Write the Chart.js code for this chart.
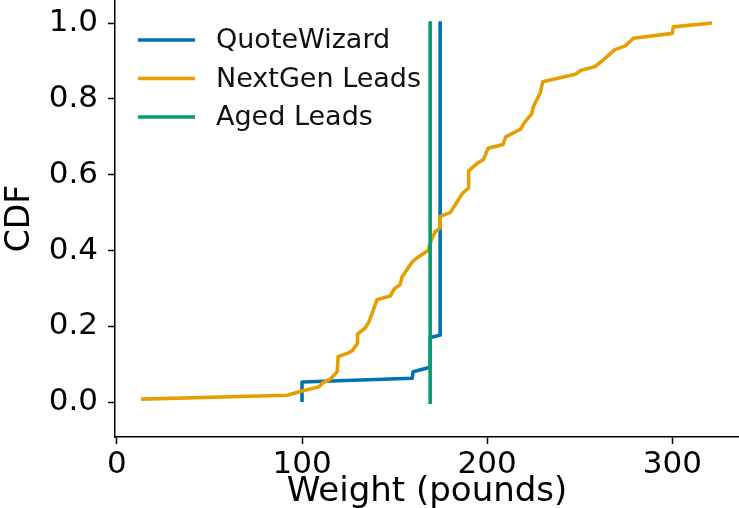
<!DOCTYPE html>
<html>
<head>
<meta charset="utf-8">
<script src="https://cdn.jsdelivr.net/npm/chart.js@4.4.0/dist/chart.umd.min.js"></script>
<style>
  body { margin: 0; background: #fff; }
</style>
</head>
<body>
<canvas id="cdfChart" width="739" height="508"></canvas>
<script>
// values: weight (pounds) and CDF
const quoteWizardX = [100, 100, 159.5, 160, 169.2, 169.2, 174.6, 174.6];
const quoteWizardY = [0.005, 0.053, 0.063, 0.08, 0.092, 0.17, 0.177, 1.0];

const nextGenX = [14, 92, 100.5, 109, 111, 115, 119, 119.5, 125, 127, 130, 130, 134, 136, 140.5,
  147.6, 150, 153, 154, 159.5, 162, 168, 170, 172, 174.6, 174.6, 180, 182.7, 186.5, 190, 190,
  194.6, 198, 200.5, 208.6, 210, 218, 220.5, 224, 225, 228.6, 230, 247.6, 251, 258, 262, 269,
  274.6, 279, 300, 300.5, 320.5];
const nextGenY = [0.008, 0.018, 0.03, 0.04, 0.05, 0.06, 0.08, 0.12, 0.13, 0.135, 0.155, 0.18, 0.195, 0.21, 0.27,
  0.28, 0.30, 0.31, 0.33, 0.37, 0.38, 0.40, 0.43, 0.45, 0.46, 0.49, 0.50, 0.52, 0.55, 0.565, 0.61,
  0.63, 0.64, 0.67, 0.68, 0.70, 0.72, 0.74, 0.76, 0.78, 0.815, 0.845, 0.865, 0.876, 0.885, 0.90, 0.93,
  0.94, 0.96, 0.973, 0.99, 1.0];

const agedX = [169.2, 169.2];
const agedY = [0, 1.0];

const seriesNames = ['QuoteWizard', 'NextGen Leads', 'Aged Leads'];
const xTicks = [0, 100, 200, 300];

const toPoints = (xs, ys) => xs.map((x, i) => ({ x: x, y: ys[i] }));

const fontFam = '"DejaVu Sans", sans-serif';

// legend drawn inside the plot, top-left, like matplotlib
const insideLegend = {
  id: 'insideLegend',
  afterDraw(chart) {
    const ctx = chart.ctx;
    ctx.save();
    ctx.font = '27px ' + fontFam;
    ctx.textBaseline = 'middle';
    chart.data.datasets.forEach((ds, i) => {
      const y = 40 + i * 38.5;
      ctx.strokeStyle = ds.borderColor;
      ctx.lineWidth = 3.6;
      ctx.beginPath();
      ctx.moveTo(138, y);
      ctx.lineTo(195, y);
      ctx.stroke();
      ctx.fillStyle = '#111';
      ctx.fillText(ds.label, 216, y + 1);
    });
    ctx.restore();
  }
};

const lineStyle = {
  pointRadius: 0,
  borderWidth: 3.6,
  tension: 0,
  fill: false,
  borderJoinStyle: 'round',
  borderCapStyle: 'square'
};

var ctx = document.getElementById('cdfChart').getContext('2d');
var chart = new Chart(ctx, {
  type: 'line',
  data: {
    datasets: [{
      label: seriesNames[0],
      data: toPoints(quoteWizardX, quoteWizardY),
      borderColor: '#0072b2',
      order: 3,
      ...lineStyle
    }, {
      label: seriesNames[1],
      data: toPoints(nextGenX, nextGenY),
      borderColor: '#e69f00',
      order: 2,
      ...lineStyle
    }, {
      label: seriesNames[2],
      data: toPoints(agedX, agedY),
      borderColor: '#009e73',
      order: 1,
      ...lineStyle
    }]
  },
  plugins: [insideLegend],
  options: {
    responsive: false,
    devicePixelRatio: 1,
    animation: false,
    layout: { padding: 0 },
    plugins: {
      legend: { display: false },
      tooltip: { enabled: false }
    },
    scales: {
      x: {
        type: 'linear',
        min: -1,
        max: 336,
        afterFit: (s) => { s.height = 71; s.paddingLeft = 0; s.paddingRight = 0; },
        afterBuildTicks: (s) => { s.ticks = xTicks.map(v => ({ value: v })); },
        ticks: {
          color: '#000',
          padding: 4,
          font: { size: 31, family: fontFam, lineHeight: 1.1 },
          callback: (v) => String(v)
        },
        grid: { drawOnChartArea: false, drawTicks: true, tickLength: 7, tickWidth: 1.5, color: '#000' },
        border: { color: '#000', width: 1.5 },
        title: {
          display: true,
          text: 'Weight (pounds)',
          color: '#000',
          font: { size: 34, family: fontFam, lineHeight: 1.0 },
          padding: { top: 0, bottom: -1 }
        }
      },
      y: {
        min: -0.092,
        max: 1.061,
        afterFit: (s) => { s.width = 115; s.paddingTop = 0; s.paddingBottom = 0; },
        ticks: {
          stepSize: 0.2,
          includeBounds: false,
          color: '#000',
          padding: 10,
          font: { size: 31, family: fontFam },
          callback: (v) => v.toFixed(1)
        },
        grid: { drawOnChartArea: false, drawTicks: true, tickLength: 7, tickWidth: 1.5, color: '#000' },
        border: { color: '#000', width: 1.5 },
        title: {
          display: true,
          text: 'CDF',
          color: '#000',
          font: { size: 33, family: fontFam, lineHeight: 1.0 },
          padding: { top: 4, bottom: 0 }
        }
      }
    }
  }
});
</script>
</body>
</html>
